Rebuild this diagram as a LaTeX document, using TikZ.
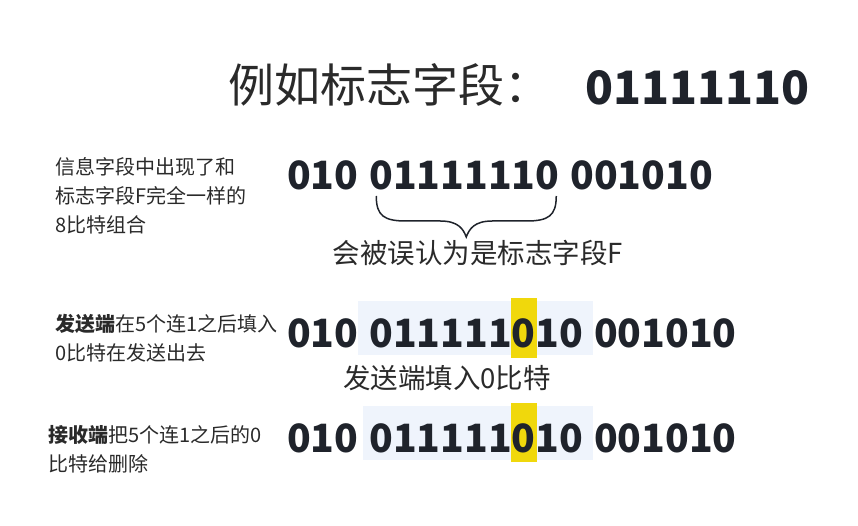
\documentclass[tikz,border=0pt]{standalone}
\usepackage{fontspec}
\setmainfont{Noto Sans CJK SC}
\usetikzlibrary{positioning,backgrounds,calc}
\definecolor{ink}{HTML}{1F232B}
\definecolor{txt}{HTML}{2A2A2A}
\definecolor{bluebg}{HTML}{EFF4FC}
\definecolor{flagbg}{HTML}{F0D80C}

\begin{document}
\begin{tikzpicture}[x=1pt,y=-1pt,
    bits/.style={inner sep=0pt,outer sep=0pt,text=ink,font=\fontsize{39}{39}\selectfont\bfseries,anchor=base west},
    sidenote/.style={inner sep=0pt,text=txt,font=\fontsize{20}{29}\selectfont,align=left,anchor=west},
    remark/.style={inner sep=0pt,text=txt,font=\fontsize{27.5}{27.5}\selectfont}]
    \useasboundingbox (0,0) rectangle (858,526);

    \node[inner sep=0pt,text=txt,font=\fontsize{46}{46}\selectfont,anchor=base west] (title) at (228,103) {例如标志字段：};
    \node[bits,font=\fontsize{46}{46}\selectfont\bfseries] (flagbits) at (585,105) {01111110};

    % frame with flag pattern inside
    \node[sidenote] (info) at (55,196) {信息字段中出现了和\\标志字段F完全一样的\\8比特组合};
    \node[bits] (r2a) at (287,190) {010};
    \node[bits] (r2b) at ($(r2a.base east)+(11,0)$) {01111110};
    \node[bits] (r2c) at ($(r2b.base east)+(11,0)$) {001010};
    \coordinate (bl) at ($(r2b.base west)+(7,6)$);
    \coordinate (br) at ($(r2b.base east)+(-3,6)$);
    \coordinate (tip) at ($(bl)!0.5!(br)+(0,41)$);
    \draw[line width=1.5pt,ink] (bl) .. controls ($(bl)+(0,20)$) and ($(bl)+(8,25)$) .. ($(bl)+(30,25)$)
        -- ($(tip)+(-26,-16)$) .. controls ($(tip)+(-8,-16)$) and ($(tip)+(-3,-8)$) .. (tip)
        .. controls ($(tip)+(3,-8)$) and ($(tip)+(8,-16)$) .. ($(tip)+(26,-16)$)
        -- ($(br)+(-30,25)$) .. controls ($(br)+(-8,25)$) and ($(br)+(0,20)$) .. (br);
    \node[remark] (wrong) at (478,253) {会被误认为是标志字段F};

    % sender
    \node[sidenote] (send) at (55,338) {\textbf{发送端}在5个连1之后填入\\0比特在发送出去};
    \node[bits] (r3a) at (287,347) {010};
    \node[bits] (r3b) at ($(r3a.base east)+(11,0)$) {011111};
    \node[bits] (r3c) at (r3b.base east) {0};
    \node[bits] (r3d) at (r3c.base east) {10};
    \node[bits] (r3e) at ($(r3d.base east)+(11,0)$) {001010};
    \node[remark] (stuff) at (447,378) {发送端填入0比特};

    % receiver
    \node[sidenote] (recv) at (48,449) {\textbf{接收端}把5个连1之后的0\\比特给删除};
    \node[bits] (r4a) at (287,452) {010};
    \node[bits] (r4b) at ($(r4a.base east)+(11,0)$) {011111};
    \node[bits] (r4c) at (r4b.base east) {0};
    \node[bits] (r4d) at (r4c.base east) {10};
    \node[bits] (r4e) at ($(r4d.base east)+(11,0)$) {001010};

    \begin{scope}[on background layer]
      \fill[bluebg] ($(r3a.base east)+(0,-46)$) rectangle ($(r3d.base east)+(10,8)$);
      \fill[flagbg] ($(r3c.base west)+(-1,-49)$) rectangle ($(r3c.base east)+(1,11)$);
      \fill[bluebg] ($(r4b.base west)+(-6,-46)$) rectangle ($(r4d.base east)+(10,8)$);
      \fill[flagbg] ($(r4c.base west)+(-1,-49)$) rectangle ($(r4c.base east)+(1,10)$);
    \end{scope}
  \end{tikzpicture}
\end{document}
